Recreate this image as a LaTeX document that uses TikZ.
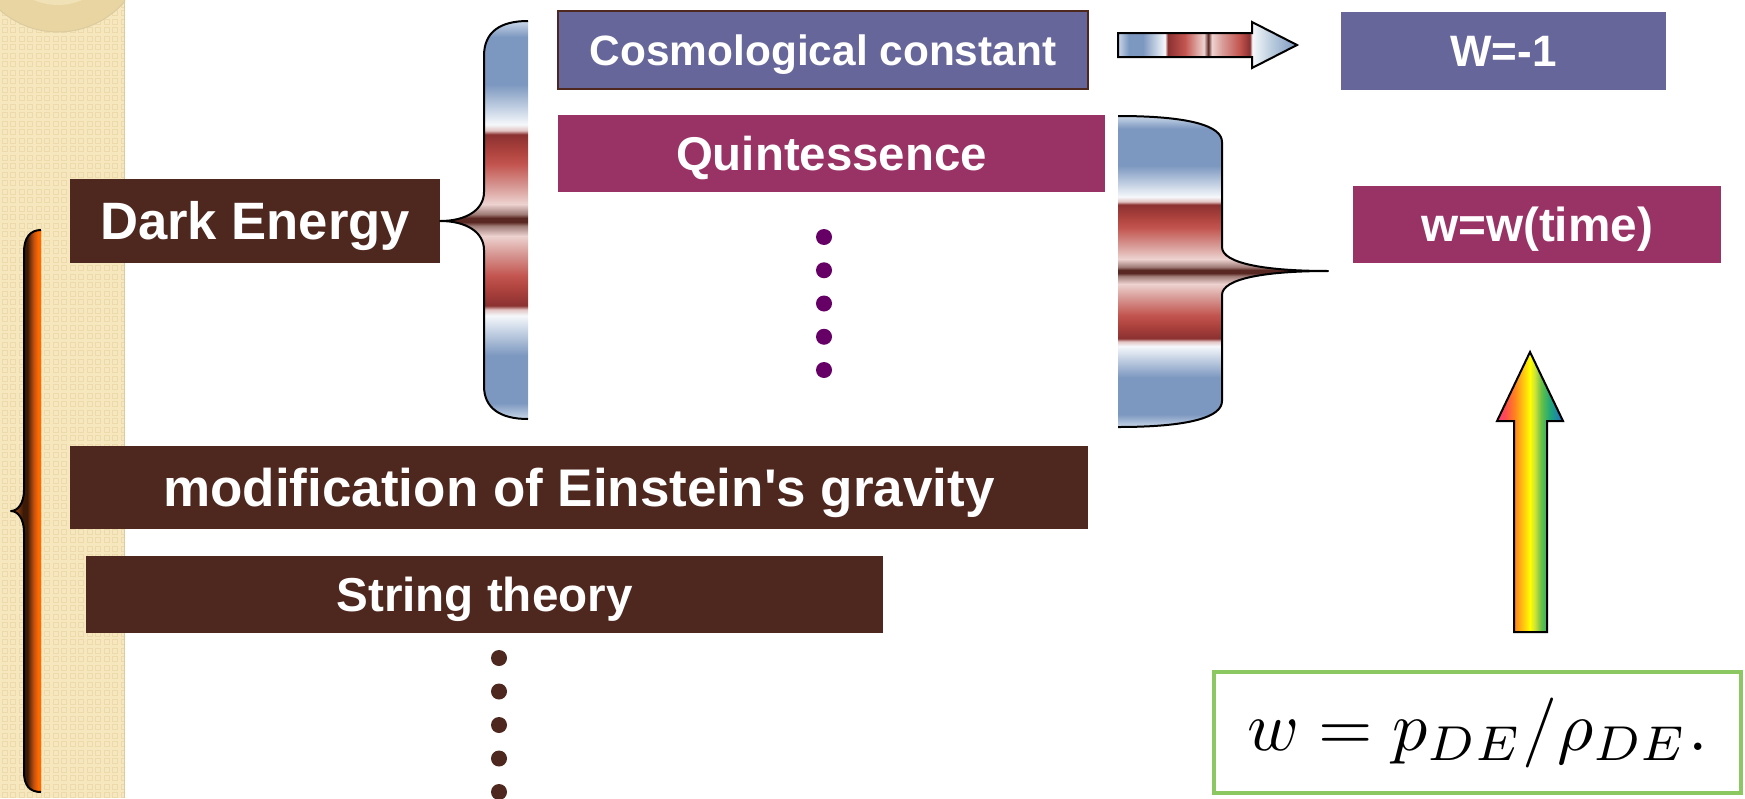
\documentclass[tikz,border=0pt]{standalone}
\usepackage[no-math]{fontspec}
\setmainfont{Liberation Sans}
\usepackage{graphicx}
\usepackage{tikz}

\definecolor{debrown}{HTML}{4E271F}
\definecolor{slate}{HTML}{66669A}
\definecolor{plum}{HTML}{993366}
\definecolor{dotpurple}{HTML}{660066}
\definecolor{eqgreen}{HTML}{8CC862}
\definecolor{beige}{HTML}{F7E7BE}
\definecolor{beigetile}{HTML}{ECDAAB}
\definecolor{beigering}{HTML}{E8D5A2}
\definecolor{beigein}{HTML}{F0E1B6}
\definecolor{beigeedge}{HTML}{DCCB9F}
% band colours of the braces and the small arrow
\definecolor{bandblue}{HTML}{7D98C0}
\definecolor{bandpale}{HTML}{C9D7E8}
\definecolor{bandmist}{HTML}{B8CADC}
\definecolor{bandwhite}{HTML}{F5F8FB}
\definecolor{bandline}{HTML}{E3C4C4}
\definecolor{banddark}{HTML}{8B3131}
\definecolor{bandbrick}{HTML}{B0443F}
\definecolor{bandred}{HTML}{C35550}
\definecolor{bandrose}{HTML}{D99E9A}
\definecolor{bandpink}{HTML}{EDD3D0}
\definecolor{bandtaupe}{HTML}{A07C78}
\definecolor{bandcore}{HTML}{5A2822}
% rainbow arrow
\definecolor{rbpink}{HTML}{FF3A80}
\definecolor{rbred}{HTML}{FF4A50}
\definecolor{rborange}{HTML}{FF8020}
\definecolor{rbamber}{HTML}{FFC810}
\definecolor{rbyellow}{HTML}{FFFF00}
\definecolor{rblime}{HTML}{C8E03C}
\definecolor{rbgreen}{HTML}{66C046}
\definecolor{rbteal}{HTML}{1FA878}
\definecolor{rbblue}{HTML}{1E6CCC}
% orange brace
\definecolor{otip}{HTML}{C85810}
\definecolor{obrown}{HTML}{3C1A08}
\definecolor{orust}{HTML}{C05010}
\definecolor{oorange}{HTML}{FF6A00}

\pgfdeclareverticalshading{bands}{100bp}{%
  color(0bp)=(bandpale); color(25bp)=(bandpale); color(27bp)=(bandblue);
  color(33bp)=(bandblue); color(38bp)=(bandwhite); color(38.75bp)=(bandline);
  color(39.25bp)=(banddark); color(41.5bp)=(bandbrick); color(43bp)=(bandred);
  color(46bp)=(bandrose); color(48bp)=(bandpink); color(49.25bp)=(bandtaupe);
  color(49.75bp)=(bandcore); color(50.25bp)=(bandcore); color(50.75bp)=(bandtaupe);
  color(52bp)=(bandpink); color(54bp)=(bandrose); color(57bp)=(bandred);
  color(58.5bp)=(bandbrick); color(60.75bp)=(banddark); color(61.25bp)=(bandline);
  color(62bp)=(bandwhite); color(67bp)=(bandblue); color(73bp)=(bandblue);
  color(75bp)=(bandpale); color(100bp)=(bandpale)}
\pgfdeclarehorizontalshading{arrowbands}{100bp}{%
  color(0bp)=(bandpale); color(25bp)=(bandpale); color(28bp)=(bandblue);
  color(32bp)=(bandblue); color(38.1bp)=(bandwhite); color(38.9bp)=(banddark);
  color(43.7bp)=(bandred); color(49bp)=(bandpink); color(50.2bp)=(bandcore);
  color(51.2bp)=(bandpink); color(54bp)=(bandrose); color(59bp)=(bandred);
  color(61.8bp)=(banddark); color(62.5bp)=(bandwhite); color(68bp)=(bandmist);
  color(75bp)=(bandblue); color(100bp)=(bandblue)}
\pgfdeclarehorizontalshading{rainbow}{100bp}{%
  color(0bp)=(rbpink); color(25bp)=(rbpink); color(31bp)=(rbred);
  color(38bp)=(rborange); color(45bp)=(rbamber); color(50bp)=(rbyellow);
  color(54bp)=(rblime); color(58.5bp)=(rbgreen); color(65bp)=(rbteal);
  color(75bp)=(rbblue); color(100bp)=(rbblue)}
\pgfdeclarehorizontalshading{orangebar}{100bp}{%
  color(0bp)=(otip); color(25bp)=(otip); color(45bp)=(obrown);
  color(52bp)=(obrown); color(62.5bp)=(orust); color(70bp)=(oorange);
  color(100bp)=(oorange)}

\begin{document}
\begin{tikzpicture}[x=1pt, y=-1pt,
                    panel/.style={inner sep=0pt, text=white, text depth=0pt},
                    bigfont/.style={font=\fontsize{#1}{#1}\selectfont\bfseries, text height={0.72*#1}},
                    dot/.style={circle, fill=#1, inner sep=0pt, minimum size=16pt},
                    braceline/.style={line width=2pt, line join=round},
                    tile/.style={draw=beigetile, line width=0.9pt}]
  \useasboundingbox (0,0) rectangle (1745,798);

  \begin{scope}
    \clip (0,0) rectangle (125,798);
    \fill[beige] (0,0) rectangle (125,798);
    \path[tile] \foreach \i in {0,...,14} {\foreach \j in {0,...,93} {(2+8.5*\i,2+8.5*\j) rectangle ++(5,5)}};
    \fill[beigering] (58,-56) circle (88);
    \fill[beigein] (58,-56) circle (61);
    \draw[beigeedge, line width=1pt] (58,-56) circle (88);
  \end{scope}
  \draw[beigeedge, line width=1.5pt] (124.5,0) -- (124.5,798);

  \shade[shading=orangebar] (41,230) .. controls (30,230) and (24,238) .. (24,252) -- (24,490)
    .. controls (24,503) and (18,511) .. (11,511) .. controls (18,511) and (24,519) .. (24,532)
    -- (24,772) .. controls (24,786) and (30,792) .. (41,792) -- cycle;
  \draw[braceline] (41,230) .. controls (30,230) and (24,238) .. (24,252) -- (24,490)
    .. controls (24,503) and (18,511) .. (11,511) .. controls (18,511) and (24,519) .. (24,532)
    -- (24,772) .. controls (24,786) and (30,792) .. (41,792);

  \node[panel, fill=debrown, bigfont=52.6, minimum width=370, minimum height=84] (dark) at (255,221) {Dark Energy};
  \node[panel, fill=slate, draw=debrown, line width=2pt, bigfont=42.4, minimum width=530, minimum height=78] (cosmo) at (823,50) {Cosmological constant};
  \node[panel, fill=slate, bigfont=44, minimum width=325, minimum height=78] (wminus) at (1503.5,51) {W=-1};
  \node[panel, fill=plum, bigfont=47.4, minimum width=547, minimum height=77] (quint) at (831.5,153.5) {Quintessence};
  \node[panel, fill=plum, bigfont=47.7, minimum width=368, minimum height=77] (wtime) at (1537,224.5) {w=w(time)};
  \node[panel, fill=debrown, bigfont=53, minimum width=1018, minimum height=83] (modgrav) at (579,487.5) {modification of Einstein\textquotesingle s gravity};
  \node[panel, fill=debrown, bigfont=47.6, minimum width=797, minimum height=77] (string) at (484.5,594.5) {String theory};

  \shade[shading=bands] (528,21) .. controls (500,21) and (484,32) .. (484,56) -- (484,192)
    .. controls (484,210) and (466,221) .. (dark.east) .. controls (466,221) and (484,232) .. (484,250)
    -- (484,386) .. controls (484,408) and (500,419) .. (528,419) -- cycle;
  \draw[braceline] (528,21) .. controls (500,21) and (484,32) .. (484,56) -- (484,192)
    .. controls (484,210) and (466,221) .. (dark.east) .. controls (466,221) and (484,232) .. (484,250)
    -- (484,386) .. controls (484,408) and (500,419) .. (528,419);

  \coordinate (qtip) at (1328,271);
  \shade[shading=bands] (1118,116) .. controls (1190,116) and (1222,126) .. (1222,142) -- (1222,247)
    .. controls (1222,264) and (1268,271) .. (qtip) .. controls (1268,271) and (1222,278) .. (1222,295)
    -- (1222,401) .. controls (1222,417) and (1190,427) .. (1118,427) -- cycle;
  \draw[braceline] (1118,116) .. controls (1190,116) and (1222,126) .. (1222,142) -- (1222,247)
    .. controls (1222,264) and (1268,271) .. (qtip) .. controls (1268,271) and (1222,278) .. (1222,295)
    -- (1222,401) .. controls (1222,417) and (1190,427) .. (1118,427);

  \shadedraw[shading=arrowbands, line width=2pt] (1118,33) -- (1252,33) -- (1252,22) -- (1297,45)
    -- (1252,68) -- (1252,57) -- (1118,57) -- cycle;
  \shadedraw[shading=rainbow, line width=2pt] (1514,632) -- (1514,421) -- (1497,421) -- (1530,352)
    -- (1563,421) -- (1547,421) -- (1547,632) -- cycle;

  \foreach \k in {0,...,4} \node[dot=dotpurple] (qdot\k) at (824,237+33.25*\k) {};
  \foreach \k in {0,...,4} \node[dot=debrown] (sdot\k) at (499,658+33.5*\k) {};

  \node[draw=eqgreen, line width=4pt, inner sep=0pt, minimum width=527, minimum height=121] (eqn)
    at (1477.5,732.5) {\scalebox{7}{$w = p_{DE}/\rho_{DE}.$}};
\end{tikzpicture}
\end{document}
